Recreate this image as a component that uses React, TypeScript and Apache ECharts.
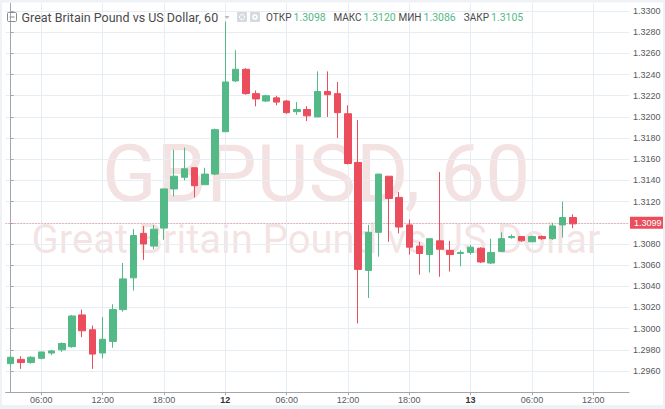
import React, { useEffect, useRef } from "react";
import * as echarts from "echarts";

const categories = [
  "11 03:00", "11 04:00", "11 05:00", "11 06:00", "11 07:00", "11 08:00", "11 09:00", "11 10:00",
  "11 11:00", "11 12:00", "11 13:00", "11 14:00", "11 15:00", "11 16:00", "11 17:00", "11 18:00",
  "11 19:00", "11 20:00", "11 21:00", "11 22:00", "11 23:00",
  "12 00:00", "12 01:00", "12 02:00", "12 03:00", "12 04:00", "12 05:00", "12 06:00", "12 07:00",
  "12 08:00", "12 09:00", "12 10:00", "12 11:00", "12 12:00", "12 13:00", "12 14:00", "12 15:00",
  "12 16:00", "12 17:00", "12 18:00", "12 19:00", "12 20:00", "12 21:00", "12 22:00", "12 23:00",
  "13 00:00", "13 01:00", "13 02:00", "13 03:00", "13 04:00", "13 05:00", "13 06:00", "13 07:00",
  "13 08:00", "13 09:00", "13 10:00", "13 11:00", "13 12:00", "13 13:00", "13 14:00", "13 15:00",
];

const opens = [
  1.2967, 1.2971, 1.2968, 1.2972, 1.2977, 1.298, 1.2983, 1.3013, 1.2999, 1.2977,
  1.2988, 1.3018, 1.3048, 1.309, 1.3078, 1.3095, 1.3132, 1.3143, 1.3152, 1.3136,
  1.3146, 1.3186, 1.3234, 1.3245, 1.3222, 1.3215, 1.3218, 1.3215, 1.3205, 1.3207,
  1.32, 1.3224, 1.3222, 1.3203, 1.3157, 1.3055, 1.3091, 1.3144, 1.3124, 1.3098,
  1.3078, 1.307, 1.3083, 1.3074, 1.3071, 1.3072, 1.3076, 1.3062, 1.3073, 1.3086,
  1.3087, 1.3082, 1.3087, 1.3085, 1.3098, 1.3105,
];
const closes = [
  1.2973, 1.2968, 1.2973, 1.2978, 1.2979, 1.2986, 1.3012, 1.2998, 1.2976, 1.299,
  1.3018, 1.3047, 1.3088, 1.308, 1.3094, 1.3132, 1.3144, 1.3151, 1.3135, 1.3146,
  1.3188, 1.3233, 1.3245, 1.3222, 1.3217, 1.322, 1.3214, 1.3204, 1.3207, 1.3201,
  1.3224, 1.3221, 1.3204, 1.3156, 1.3056, 1.3091, 1.3146, 1.3123, 1.3096, 1.3077,
  1.3071, 1.3085, 1.3075, 1.307, 1.3072, 1.3077, 1.3063, 1.3072, 1.3085, 1.3087,
  1.3083, 1.3087, 1.3085, 1.3097, 1.3105, 1.3099,
];
const lows = [
  1.2964, 1.2962, 1.2967, 1.2971, 1.2975, 1.2978, 1.2982, 1.2992, 1.2962, 1.2972,
  1.2982, 1.3016, 1.3036, 1.3065, 1.3075, 1.3084, 1.3125, 1.314, 1.3124, 1.3136,
  1.3145, 1.3186, 1.3233, 1.3221, 1.321, 1.3214, 1.3211, 1.3203, 1.3202, 1.3196,
  1.32, 1.32, 1.318, 1.3155, 1.3005, 1.3029, 1.3068, 1.3082, 1.309, 1.307,
  1.3051, 1.3053, 1.3049, 1.3054, 1.3059, 1.307, 1.3062, 1.3061, 1.3073, 1.3085,
  1.3082, 1.3082, 1.3084, 1.3084, 1.3086, 1.3095,
];
const highs = [
  1.2974, 1.2974, 1.2974, 1.2978, 1.298, 1.2987, 1.3013, 1.3018, 1.3003, 1.3011,
  1.3023, 1.3062, 1.3094, 1.3097, 1.3098, 1.3132, 1.3169, 1.3171, 1.3152, 1.3152,
  1.3189, 1.329, 1.3263, 1.3246, 1.3225, 1.3221, 1.322, 1.3216, 1.3214, 1.321,
  1.3243, 1.3243, 1.3233, 1.3211, 1.3197, 1.3098, 1.3146, 1.3144, 1.3129, 1.3103,
  1.3082, 1.3085, 1.3148, 1.3083, 1.3074, 1.3079, 1.3077, 1.3085, 1.3091, 1.3089,
  1.3087, 1.3088, 1.3088, 1.31, 1.312, 1.3108,
];

const priceTicks = [
  1.296, 1.298, 1.3, 1.302, 1.304, 1.306, 1.308, 1.31, 1.312, 1.314,
  1.316, 1.318, 1.32, 1.322, 1.324, 1.326, 1.328, 1.33,
];
const timeTickIndex = [3, 9, 15, 21, 27, 33, 39, 45, 51, 57];
const timeTickText = ["06:00", "12:00", "18:00", "12", "06:00", "12:00", "18:00", "13", "06:00", "12:00"];
const dayLabels = ["12", "13"];

const lastPrice = 1.3099;
const hoveredIndex = 54;
const titleText = "Great Britain Pound vs US Dollar, 60";
const watermarkMain = "GBPUSD, 60";
const watermarkSub = "Great Britain Pound vs US Dollar";
const ohlcLabels = ["ОТКР", "МАКС", "МИН", "ЗАКР"];

const UP = "#53b987";
const DOWN = "#eb4d5c";
const GRIDLINE = "#e6edf3";
const AXIS = "#a3a6ad";
const LABEL = "#555a60";

export default function App() {
  const ref = useRef<HTMLDivElement>(null);

  useEffect(() => {
    if (!ref.current) return;
    const chart = echarts.init(ref.current, undefined, { renderer: "svg" });

    const hoveredValues = [
      opens[hoveredIndex],
      highs[hoveredIndex],
      lows[hoveredIndex],
      closes[hoveredIndex],
    ];
    const labelRight = [291.5, 361.5, 421.5, 489];
    const valueX = [293.5, 363.5, 423.5, 491];

    const headerTexts: any[] = [];
    ohlcLabels.forEach((lab, k) => {
      headerTexts.push({
        type: "text",
        x: labelRight[k],
        y: 17.5,
        z: 100,
        style: {
          text: lab,
          font: "10px Roboto",
          fill: "#4a4a4a",
          textAlign: "right",
          textVerticalAlign: "middle",
        },
      });
      headerTexts.push({
        type: "text",
        x: valueX[k],
        y: 17.5,
        z: 100,
        style: {
          text: hoveredValues[k].toFixed(4),
          font: "10.5px Roboto",
          fill: UP,
          textAlign: "left",
          textVerticalAlign: "middle",
        },
      });
    });

    const option: any = {
      animation: false,
      backgroundColor: "#ffffff",
      textStyle: { fontFamily: "Liberation Sans" },
      grid: { left: 5.6, right: 36, top: 3, bottom: 16.8, containLabel: false },
      xAxis: [
        {
          type: "category",
          data: categories,
          show: false,
          position: "top",
          boundaryGap: true,
        },
        {
          type: "value",
          position: "bottom",
          min: -0.5,
          max: categories.length - 0.5,
          axisLine: { show: true, onZero: false, lineStyle: { color: AXIS, width: 1 } },
          axisTick: {
            show: true,
            customValues: timeTickIndex,
            length: 3,
            lineStyle: { color: AXIS },
          },
          axisLabel: {
            customValues: timeTickIndex,
            fontSize: 9,
            color: LABEL,
            margin: 3,
            formatter: (v: number) => {
              const k = timeTickIndex.indexOf(Math.round(v));
              if (k < 0) return "";
              const t = timeTickText[k];
              return dayLabels.indexOf(t) >= 0 ? "{b|" + t + "}" : t;
            },
            rich: { b: { fontWeight: "bold", fontSize: 9, color: "#333" } },
          },
          splitLine: { show: true, lineStyle: { color: GRIDLINE, width: 1 } },
        },
      ],
      yAxis: {
        type: "value",
        position: "right",
        min: 1.294,
        max: 1.33076,
        scale: true,
        axisLine: { show: true, lineStyle: { color: AXIS, width: 1 } },
        axisTick: {
          show: true,
          customValues: priceTicks,
          length: 3,
          lineStyle: { color: AXIS },
        },
        axisLabel: {
          customValues: priceTicks,
          fontSize: 9,
          color: LABEL,
          margin: 4,
          formatter: (v: number) => v.toFixed(4),
        },
        splitLine: { show: true, lineStyle: { color: GRIDLINE, width: 1 } },
      },
      series: [
        {
          type: "candlestick",
          xAxisIndex: 0,
          yAxisIndex: 0,
          data: opens.map((o, i) => [o, closes[i], lows[i], highs[i]]),
          barWidth: 7,
          z: 5,
          itemStyle: {
            color: UP,
            color0: DOWN,
            borderColor: UP,
            borderColor0: DOWN,
            borderWidth: 1,
          },
          markLine: {
            silent: true,
            symbol: ["none", "none"],
            data: [{ yAxis: lastPrice }],
            lineStyle: { color: "#f07c86", type: [1, 2], width: 1 },
            label: {
              show: true,
              position: "end",
              formatter: lastPrice.toFixed(4),
              color: "#ffffff",
              backgroundColor: DOWN,
              padding: [2, 4, 1, 4],
              fontSize: 9,
              distance: 1,
            },
          },
        },
      ],
      graphic: [
        // watermark
        {
          type: "text",
          x: 316,
          y: 174,
          z: -1,
          silent: true,
          style: {
            text: watermarkMain,
            font: "80px Roboto",
            fill: "rgba(200, 110, 110, 0.2)",
            textAlign: "center",
            textVerticalAlign: "middle",
          },
        },
        {
          type: "text",
          x: 316,
          y: 239.5,
          z: -1,
          silent: true,
          style: {
            text: watermarkSub,
            font: "40px Roboto",
            fill: "rgba(200, 110, 110, 0.2)",
            textAlign: "center",
            textVerticalAlign: "middle",
          },
        },
        // frame bands
        { type: "rect", z: 100, shape: { x: 0, y: 0, width: 665, height: 2.5 }, style: { fill: "#eef1f5" } },
        { type: "rect", z: 100, shape: { x: 0, y: 0, width: 2, height: 409 }, style: { fill: "#eef1f5" } },
        { type: "rect", z: 100, shape: { x: 0, y: 405, width: 665, height: 4 }, style: { fill: "#eef1f5" } },
        { type: "rect", z: 100, shape: { x: 663, y: 0, width: 2, height: 409 }, style: { fill: "#eef1f5" } },
        // header icon
        {
          type: "rect",
          z: 100,
          shape: { x: 7.5, y: 12.5, width: 9, height: 9, r: 1 },
          style: { fill: "none", stroke: "#8a8d92", lineWidth: 1 },
        },
        {
          type: "line",
          z: 100,
          shape: { x1: 9.5, y1: 17, x2: 14.5, y2: 17 },
          style: { stroke: "#8a8d92", lineWidth: 1 },
        },
        {
          type: "text",
          x: 21.5,
          y: 17.5,
          z: 100,
          style: {
            text: titleText,
            font: "12.5px Roboto",
            fill: "#4a4a4a",
            textAlign: "left",
            textVerticalAlign: "middle",
          },
        },
        {
          type: "polygon",
          z: 100,
          shape: { points: [[224.5, 16], [229.5, 16], [227, 19]] },
          style: { fill: "#b9bcc2" },
        },
        {
          type: "rect",
          z: 100,
          shape: { x: 237, y: 12, width: 10, height: 10, r: 1 },
          style: { fill: "#d6d9de" },
        },
        {
          type: "circle",
          z: 101,
          shape: { cx: 242, cy: 17, r: 2.5 },
          style: { fill: "none", stroke: "#ffffff", lineWidth: 1 },
        },
        {
          type: "rect",
          z: 100,
          shape: { x: 250, y: 12, width: 10, height: 10, r: 1 },
          style: { fill: "#d6d9de" },
        },
        {
          type: "circle",
          z: 101,
          shape: { cx: 255, cy: 17, r: 2.8 },
          style: { fill: "#ffffff" },
        },
        {
          type: "circle",
          z: 102,
          shape: { cx: 255, cy: 17, r: 1.2 },
          style: { fill: "#d6d9de" },
        },
        ...headerTexts,
      ],
    };

    chart.setOption(option);
    return () => chart.dispose();
  }, []);

  return (
    <div
      ref={ref}
      style={{ position: "absolute", left: 0, top: 0, width: 665, height: 409 }}
    />
  );
}
